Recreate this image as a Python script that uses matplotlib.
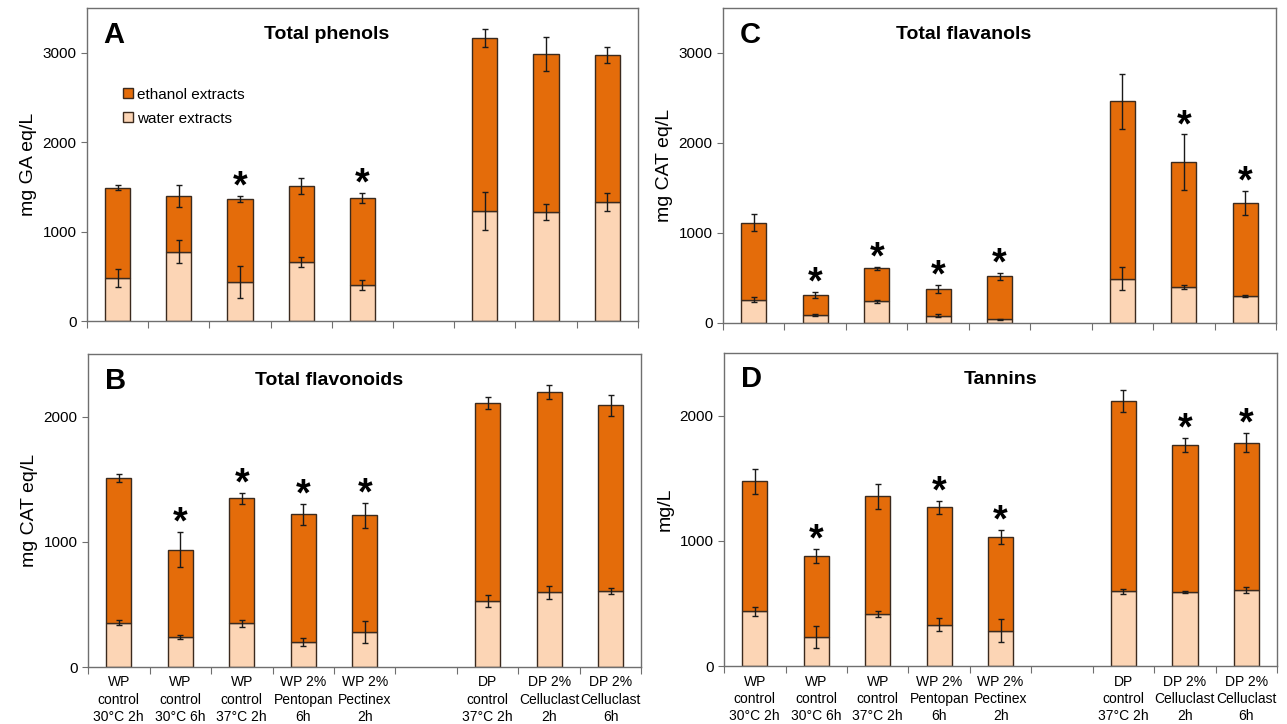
import numpy as np
import matplotlib
matplotlib.use("Agg")
import matplotlib.pyplot as plt

plt.rcParams['font.family'] = ['Liberation Sans', 'DejaVu Sans']

# categories (slot 5 is an empty gap between WP and DP groups)
categories = ["WP\ncontrol\n30°C 2h", "WP\ncontrol\n30°C 6h", "WP\ncontrol\n37°C 2h",
              "WP 2%\nPentopan\n6h", "WP 2%\nPectinex\n2h",
              "DP\ncontrol\n37°C 2h", "DP 2%\nCelluclast\n2h", "DP 2%\nCelluclast\n6h"]
slots = [0, 1, 2, 3, 4, 6, 7, 8]

# A - Total phenols
phen_water = [478, 776, 440, 664, 403, 1232, 1220, 1329]
phen_water_err = [100, 127, 177, 56, 56, 215, 90, 100]
phen_total = [1493, 1400, 1366, 1512, 1374, 3165, 2990, 2975]
phen_total_err = [25, 125, 35, 86, 56, 100, 190, 88]
phen_stars = [2, 4]

# B - Total flavonoids
flav_water = [355, 236, 350, 201, 278, 530, 599, 609]
flav_water_err = [20, 16, 27, 29, 89, 49, 52, 24]
flav_total = [1511, 939, 1349, 1220, 1212, 2108, 2198, 2092]
flav_total_err = [33, 143, 44, 82, 103, 48, 56, 82]
flav_stars = [1, 2, 3, 4]

# C - Total flavanols
flvn_water = [260, 85, 241, 82, 41, 493, 400, 300]
flvn_water_err = [30, 12, 15, 15, 6, 126, 22, 15]
flvn_total = [1114, 311, 607, 377, 518, 2461, 1784, 1332]
flvn_total_err = [96, 33, 15, 48, 42, 302, 311, 137]
flvn_stars = [1, 2, 3, 4, 6, 7]

# D - Tannins
tann_water = [437, 231, 417, 332, 284, 597, 592, 608]
tann_water_err = [33, 88, 20, 53, 93, 20, 8, 24]
tann_total = [1474, 877, 1355, 1267, 1031, 2116, 1766, 1784]
tann_total_err = [102, 57, 102, 53, 58, 91, 54, 76]
tann_stars = [1, 3, 4, 6, 7]

dark = '#E46C0A'
light = '#FCD5B5'
edge = '#3B2A1E'
spine = '#6F6F6F'


def panel(ax, letter, title, ylabel, water, water_err, total, total_err, stars,
          ymax, yticks, xlabels, title_x=0.435):
    water = np.array(water)
    total = np.array(total)
    x = np.array(slots)
    ax.bar(x, water, width=0.41, color=light, edgecolor=edge, linewidth=1.0,
           label='water extracts', zorder=2)
    ax.bar(x, total - water, bottom=water, width=0.41, color=dark, edgecolor=edge,
           linewidth=1.0, label='ethanol extracts', zorder=2)
    ax.errorbar(x, water, yerr=water_err, fmt='none', ecolor='#1a1a1a',
                elinewidth=1.0, capsize=2.5, capthick=1.0, zorder=3)
    ax.errorbar(x, total, yerr=total_err, fmt='none', ecolor='#1a1a1a',
                elinewidth=1.0, capsize=2.5, capthick=1.0, zorder=3)
    for i in stars:
        ax.annotate('*', (x[i], total[i] + total_err[i]), xytext=(0, -7),
                    textcoords='offset points', ha='center', va='bottom',
                    fontsize=27, fontweight='bold')

    ax.set_xlim(-0.5, 8.5)
    ax.set_ylim(0, ymax)
    ax.set_yticks(yticks)
    ax.tick_params(axis='y', labelsize=11, length=4, color=spine, direction='out')
    ax.set_ylabel(ylabel, fontsize=14)
    # ticks on category boundaries, labels at category centres
    ax.set_xticks(np.arange(-0.5, 9.0, 1.0))
    ax.set_xticklabels([])
    ax.tick_params(axis='x', which='major', length=5, color=spine, direction='out')
    if xlabels:
        ax.set_xticks(x, minor=True)
        ax.set_xticklabels(categories, minor=True, fontsize=10, linespacing=1.3)
        ax.tick_params(axis='x', which='minor', length=0, pad=6)
    for s in ax.spines.values():
        s.set_color(spine)
        s.set_linewidth(1.0)

    ax.text(0.03, 0.915, letter, transform=ax.transAxes, fontsize=21,
            fontweight='bold', va='center', ha='left')
    ax.text(title_x, 0.915, title, transform=ax.transAxes, fontsize=14,
            fontweight='bold', va='center', ha='center')


fig = plt.figure(figsize=(12.87, 7.24), dpi=100)
axA = fig.add_axes([0.0676, 0.5566, 0.428, 0.432])
axB = fig.add_axes([0.0684, 0.0787, 0.430, 0.432])
axC = fig.add_axes([0.5618, 0.554, 0.4297, 0.435])
axD = fig.add_axes([0.5626, 0.0797, 0.4297, 0.433])

panel(axA, 'A', 'Total phenols', 'mg GA eq/L', phen_water, phen_water_err,
      phen_total, phen_total_err, phen_stars, 3500, [0, 1000, 2000, 3000], False)
panel(axB, 'B', 'Total flavonoids', 'mg CAT eq/L', flav_water, flav_water_err,
      flav_total, flav_total_err, flav_stars, 2500, [0, 1000, 2000], True)
panel(axC, 'C', 'Total flavanols', 'mg CAT eq/L', flvn_water, flvn_water_err,
      flvn_total, flvn_total_err, flvn_stars, 3500, [0, 1000, 2000, 3000], False)
panel(axD, 'D', 'Tannins', 'mg/L', tann_water, tann_water_err,
      tann_total, tann_total_err, tann_stars, 2500, [0, 1000, 2000], True,
      title_x=0.5)

handles, labels = axA.get_legend_handles_labels()
axA.legend(handles[::-1], labels[::-1], loc='upper left', bbox_to_anchor=(0.04, 0.79),
           frameon=False, fontsize=11, handlelength=0.65, handleheight=0.65,
           handletextpad=0.25, labelspacing=0.65)

fig.savefig('out.png', dpi=100)
